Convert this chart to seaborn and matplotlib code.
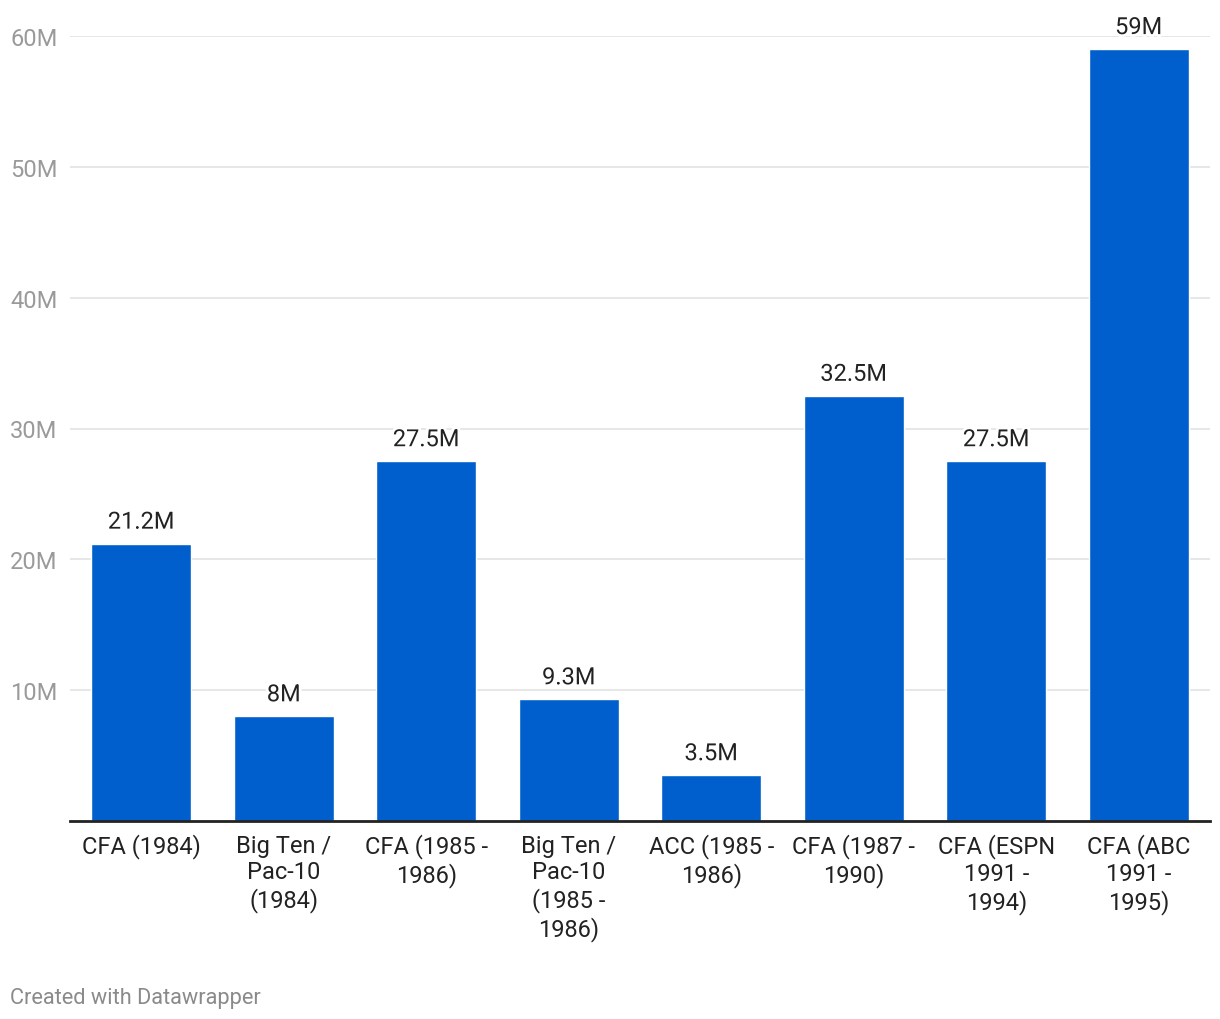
import matplotlib
matplotlib.use("Agg")
import matplotlib.pyplot as plt
import matplotlib.patheffects as pe
import seaborn as sns
import pandas as pd

categories = ["CFA (1984)", "Big Ten /\nPac-10\n(1984)", "CFA (1985 -\n1986)",
              "Big Ten /\nPac-10\n(1985 -\n1986)", "ACC (1985 -\n1986)",
              "CFA (1987 -\n1990)", "CFA (ESPN\n1991 -\n1994)", "CFA (ABC\n1991 -\n1995)"]
values = [21.2, 8, 27.5, 9.3, 3.5, 32.5, 27.5, 59]
value_labels = ["21.2M", "8M", "27.5M", "9.3M", "3.5M", "32.5M", "27.5M", "59M"]
y_ticks = [10, 20, 30, 40, 50, 60]
y_tick_labels = ["10M", "20M", "30M", "40M", "50M", "60M"]

sns.set_theme(style="white")
plt.rcParams['font.family'] = ['Roboto', 'DejaVu Sans']

df = pd.DataFrame({"cat": categories, "val": values})

fig = plt.figure(figsize=(12.2, 10.2), dpi=100)
ax = fig.add_axes([70/1220, 1-822/1020, 1140/1220, (822-37)/1020])

sns.barplot(data=df, x="cat", y="val", color="#005FCC", saturation=1, width=0.70, ax=ax, zorder=3)

ax.set_ylim(0, 60)
ax.set_xlim(-0.5, 7.5)
ax.set_yticks(y_ticks)
ax.set_yticklabels(y_tick_labels)
ax.yaxis.grid(True, color="#E3E3E3", linewidth=1.2, zorder=0)
ax.set_axisbelow(True)
for s in ["top", "right", "left"]:
    ax.spines[s].set_visible(False)
ax.spines["bottom"].set_color("#222222")
ax.spines["bottom"].set_linewidth(2)
ax.spines["bottom"].set_zorder(5)
ax.set_xlabel("")
ax.set_ylabel("")
ax.tick_params(axis="y", length=0, pad=12, labelsize=17, labelcolor="#9A9A9A")
ax.tick_params(axis="x", length=0, pad=9, labelsize=17, labelcolor="#222222")
for lbl in ax.get_yticklabels():
    lbl.set_horizontalalignment("left")
    lbl.set_x(-60/1140)
    lbl.set_transform(ax.get_yaxis_transform())
for lbl in ax.get_xticklabels():
    lbl.set_linespacing(1.2)

for i, (v, t) in enumerate(zip(values, value_labels)):
    ax.annotate(t, (i, v), xytext=(0, 10), textcoords="offset pixels",
                ha="center", va="bottom", fontsize=17, color="#222222", zorder=6,
                path_effects=[pe.withStroke(linewidth=4, foreground="white")],
                annotation_clip=False)

fig.text(10/1220, 1-999/1020, "Created with Datawrapper", ha="left", va="center",
         fontsize=15.7, color="#8A8A8A")

fig.savefig("out.png", dpi=100, facecolor="white")
